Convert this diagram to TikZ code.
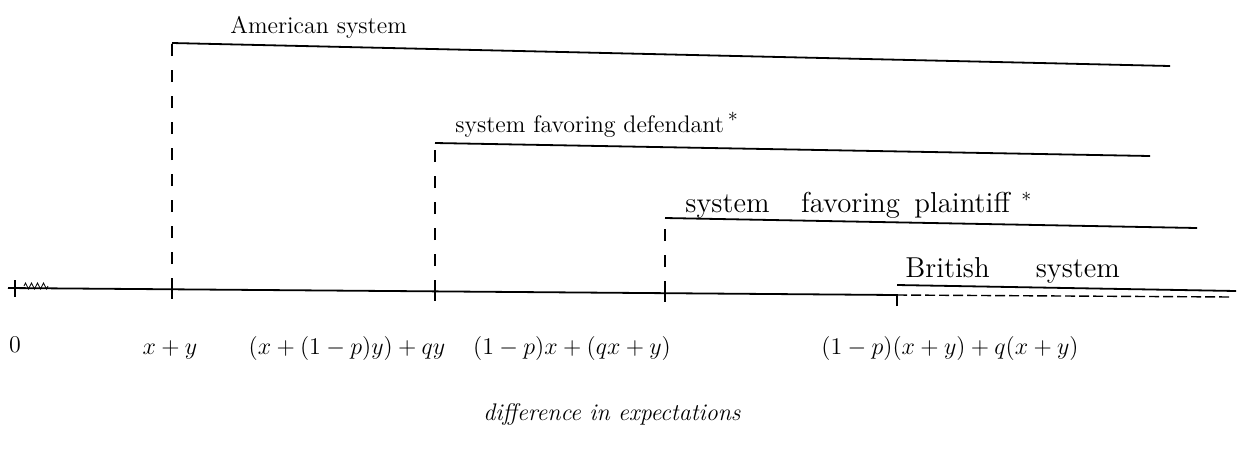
\documentclass[tikz,border=0pt]{standalone}
\usepackage{tikz}
\usetikzlibrary{positioning,calc,decorations.pathmorphing}

\begin{document}
\begin{tikzpicture}[x=0.5pt, y=-0.5pt, font=\large]
    \tikzstyle{level line} = [line width=0.9pt]
    \tikzstyle{drop line} = [line width=0.8pt, dash pattern=on 6pt off 7pt]
    \tikzstyle{axis line} = [line width=0.9pt]
    \tikzstyle{system label} = [anchor=base west, inner sep=0pt]
    \tikzstyle{tick label} = [anchor=base, inner sep=0pt]
    \useasboundingbox (0,0) rectangle (1241,462);

    % axis and ticks
    \coordinate (axisstart) at (8,288);
    \coordinate (axisend) at (1232,297);
    \coordinate (zero) at (15,288);
    \coordinate (tickA) at (172,290);
    \coordinate (tickD) at (435,292);
    \coordinate (tickP) at (665,293);
    \coordinate (tickB) at (897,295);
    \draw[axis line] (axisstart) -- (tickB);
    \draw[line width=0.7pt, dash pattern=on 5pt off 2pt] (tickB) -- (axisend);
    \foreach \t in {zero,tickA,tickD,tickP}
        \draw[axis line] ($(\t)+(0,-8)$) -- ($(\t)+(0,9)$);
    \draw[decorate, decoration={zigzag, amplitude=1.5pt, segment length=3pt}] (24,286) -- (48,286);

    % steps of each system
    \coordinate (cornerA) at (172,43);
    \coordinate (endA) at (1170,66);
    \coordinate (cornerD) at (435,143);
    \coordinate (endD) at (1150,156);
    \coordinate (cornerP) at (665,218);
    \coordinate (endP) at (1197,228);
    \coordinate (cornerB) at (897,285);
    \coordinate (endB) at (1236,291);
    \coordinate (belowB) at (897,306);
    \draw[drop line] (tickA) -- (cornerA);
    \draw[drop line] (tickD) -- (cornerD);
    \draw[drop line] (tickP) -- (cornerP);
    \draw[drop line] (belowB) -- (cornerB);
    \draw[level line] (cornerA) -- (endA);
    \draw[level line] (cornerD) -- (endD);
    \draw[level line] (cornerP) -- (endP);
    \draw[level line] (cornerB) -- (endB);

    % names of the systems
    \node[system label] (american) at (230,33) {American system};
    \node[system label] (defendant) at (455,132) {system favoring defendant\,{\Large$^{*}$}};
    \node[system label, font=\Large] (plaintiff) at (685,212) {system\hspace{1.1em}favoring\hspace{0.5em}plaintiff\hspace{0.4em}$^{*}$};
    \node[system label, font=\Large] (british) at (905,277) {British\hspace{1.6em}system};

    % values on the axis
    \node[tick label] (lab0) at (15,352) {$0$};
    \node[tick label] (labA) at (170,354) {$x+y$};
    \node[tick label] (labD) at (347,354) {$(x+(1-p)y)+qy$};
    \node[tick label] (labP) at (572,354) {$(1-p)x+(qx+y)$};
    \node[tick label] (labB) at (950,354) {$(1-p)(x+y)+q(x+y)$};
    \node[tick label, font=\large\itshape] (axisname) at (612,420) {difference in expectations};
\end{tikzpicture}
\end{document}
